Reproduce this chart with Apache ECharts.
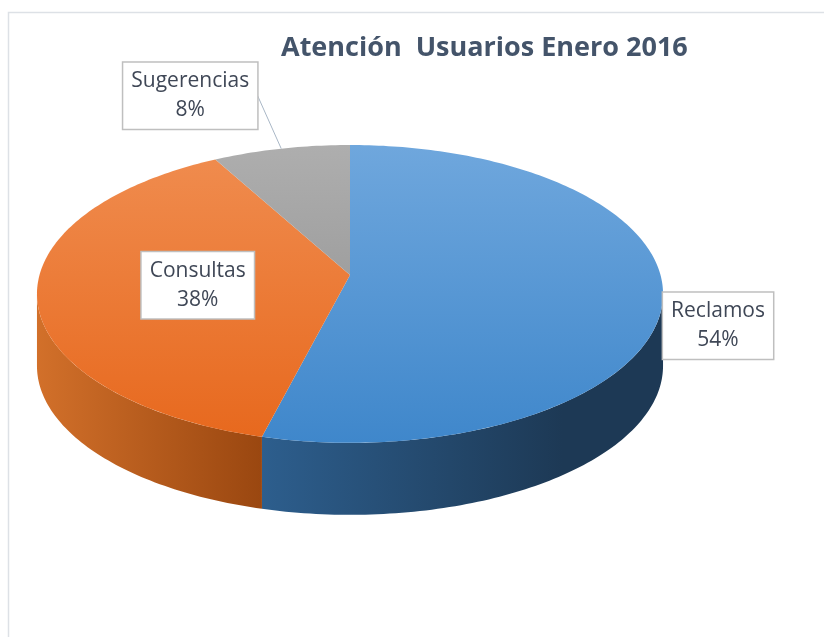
<!DOCTYPE html>
<html>
<head>
<meta charset="utf-8">
<title>Atención Usuarios Enero 2016</title>
<script src="https://cdn.jsdelivr.net/npm/echarts@6/dist/echarts.min.js"></script>
<style>
html, body { margin: 0; padding: 0; background: #fff; }
#main { width: 824px; height: 637px; }
</style>
</head>
<body>
<div id="main"></div>
<script>
// datos
var categories = ['Reclamos', 'Consultas', 'Sugerencias']
var values = [54, 38, 8]

// colores: cara superior (arriba, abajo) y lateral (izquierda, derecha)
var topColors = [['#6FA7DD', '#3F87CB'], ['#F08D50', '#E7681D'], ['#AEAEAE', '#8C8C8C']]
var sideColors = [['#2D5E8D', '#1D3955'], ['#D2702A', '#9A4710'], ['#7F7F7F', '#5F5F5F']]

// geometria del pastel 3D (perspectiva simple)
var cx = 350
var cy = 275
var R = 310.5
var H = 146.5
var P = 0.127
var DEPTH = 72

// ubicacion de etiquetas: radio del ancla y desplazamiento del centro de la caja
var labelLayout = [
  { r: 1, dx: 55, dy: 32 },
  { r: 0.5, dx: 3, dy: 1 },
  { r: 1, dx: -91, dy: -53, leader: [-25, -56] }
]

var total = values.reduce(function (s, v) { return s + v }, 0)
var angles = []
var acc = 0
values.forEach(function (v) {
  angles.push([acc / total * Math.PI * 2, (acc + v) / total * Math.PI * 2])
  acc += v
})
var tR = Math.acos(-P)
var tL = Math.PI * 2 - tR

function proj (t, r, drop) {
  var sx = Math.sin(t) * r
  var cz = Math.cos(t) * r
  var w = 1 + P * cz
  return [cx + R * sx / w, cy - H * cz / w + (drop || 0)]
}

function arcPoints (a, b, r, drop) {
  var pts = []
  var n = Math.max(2, Math.ceil((b - a) / (Math.PI / 180)))
  for (var i = 0; i <= n; i++) {
    pts.push(proj(a + (b - a) * i / n, r, drop))
  }
  return pts
}

function renderSlice (params, api) {
  var i = params.dataIndex
  var a = angles[i][0]
  var b = angles[i][1]
  var children = []

  // cara superior
  children.push({
    type: 'polygon',
    z2: 10,
    shape: { points: [proj(0, 0, 0)].concat(arcPoints(a, b, 1, 0)) },
    style: {
      fill: {
        type: 'linear', x: 0, y: cy - H / (1 + P), x2: 0, y2: cy + H / (1 - P), global: true,
        colorStops: [{ offset: 0, color: topColors[i][0] }, { offset: 1, color: topColors[i][1] }]
      }
    }
  })

  // pared lateral visible
  var s = Math.max(a, tR)
  var e = Math.min(b, tL)
  if (e > s) {
    var upper = arcPoints(s, e, 1, 0)
    var lower = arcPoints(s, e, 1, DEPTH).reverse()
    var xs = upper.map(function (p) { return p[0] })
    var x0 = Math.min.apply(null, xs)
    var x1 = Math.max.apply(null, xs)
    children.push({
      type: 'polygon',
      z2: 5,
      shape: { points: upper.concat(lower) },
      style: {
        fill: {
          type: 'linear', x: x0, y: 0, x2: x1, y2: 0, global: true,
          colorStops: i === 0
            ? [{ offset: 0, color: sideColors[i][0] }, { offset: 0.75, color: sideColors[i][1] }, { offset: 1, color: sideColors[i][1] }]
            : [{ offset: 0, color: sideColors[i][0] }, { offset: 1, color: sideColors[i][1] }]
        }
      }
    })
  }

  // etiqueta
  var lay = labelLayout[i]
  var anchor = proj((a + b) / 2, lay.r, 0)
  var pct = Math.round(api.value(0) / total * 100)
  if (lay.leader) {
    children.push({
      type: 'line',
      z2: 20,
      shape: { x1: anchor[0], y1: anchor[1], x2: anchor[0] + lay.leader[0], y2: anchor[1] + lay.leader[1] },
      style: { stroke: '#A9B7C6', lineWidth: 1 }
    })
  }
  children.push({
    type: 'text',
    z2: 30,
    x: anchor[0] + lay.dx,
    y: anchor[1] + lay.dy,
    style: {
      text: categories[i] + '\n' + pct + '%',
      font: '21px "Open Sans"',
      fill: '#3F4756',
      align: 'center',
      verticalAlign: 'middle',
      lineHeight: 29,
      backgroundColor: '#fff',
      borderColor: '#BFBFBF',
      borderWidth: 1.5,
      padding: [4, 8]
    }
  })

  return { type: 'group', children: children }
}

var chart = echarts.init(document.getElementById('main'))
chart.setOption({
  animation: false,
  title: {
    text: 'Atención  Usuarios Enero 2016',
    left: 276,
    top: 30,
    textStyle: { fontFamily: 'Open Sans', fontWeight: 'bold', fontSize: 27, color: '#44546A' }
  },
  graphic: [{
    type: 'rect',
    silent: true,
    shape: { x: 8.5, y: 12.5, width: 840, height: 660 },
    style: { fill: 'none', stroke: '#DDE1E6', lineWidth: 1.5 }
  }],
  series: [{
    type: 'custom',
    coordinateSystem: 'none',
    silent: true,
    renderItem: renderSlice,
    data: values.map(function (v, i) { return { name: categories[i], value: v } })
  }]
})
</script>
</body>
</html>
